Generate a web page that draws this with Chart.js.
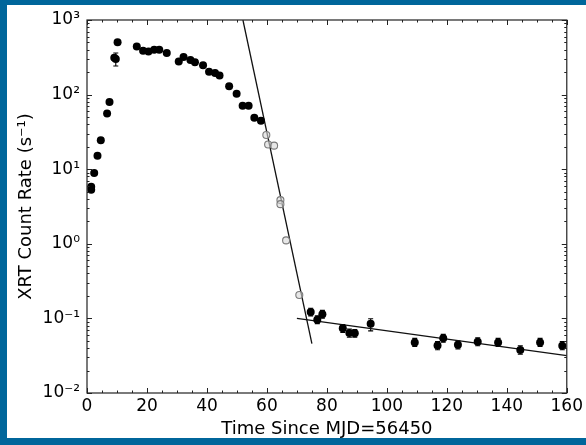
<!DOCTYPE html>
<html>
<head>
<meta charset="utf-8">
<script src="https://cdn.jsdelivr.net/npm/chart.js@4/dist/chart.umd.min.js"></script>
<style>
  html, body { margin: 0; padding: 0; }
  body { width: 586px; height: 445px; background: #00669b; position: relative; overflow: hidden; }
  #panel { position: absolute; left: 7px; top: 5px; width: 579px; height: 433px; background: #fff; }
  #wrap { position: absolute; left: 0; top: 0; width: 586px; height: 445px; }
</style>
</head>
<body>
<div id="panel"></div>
<div id="wrap"><canvas id="c" width="586" height="445"></canvas></div>
<script>
// ---- data ----
const tFilled = [1.4, 1.4, 2.4, 3.5, 4.6, 6.7, 7.5, 9.1, 9.6, 10.2, 16.6, 18.7, 20.5, 22.4, 24.1, 26.6,
  30.6, 32.2, 34.5, 36.0, 38.7, 40.7, 42.7, 44.2, 47.4, 49.9, 51.9, 53.9, 55.8, 58.0,
  74.6, 76.8, 78.5, 85.3, 87.5, 89.3, 94.6, 109.3, 116.9, 118.8, 123.7, 130.3, 137.1, 144.5, 151.1, 158.5];
const rFilled = [5.8, 5.3, 8.9, 15.2, 24.5, 55.6, 79.8, 313, 300, 502, 440, 388, 377, 400, 400, 361,
  277, 320, 291, 271, 247, 203, 195, 180, 129, 103, 71, 71, 49, 44.7,
  0.122, 0.096, 0.114, 0.0735, 0.0637, 0.063, 0.085, 0.0477, 0.0434, 0.054, 0.0444, 0.0486, 0.0477, 0.0377, 0.0477, 0.043];
const errLow = [null, null, null, null, null, null, null, null, 242, null, null, null, null, null, null, null,
  null, null, null, null, null, null, null, null, null, null, null, null, null, null,
  0.108, 0.085, 0.101, 0.065, 0.056, 0.056, 0.068, 0.042, 0.038, 0.048, 0.039, 0.043, 0.042, 0.033, 0.042, 0.038];
const errHigh = [null, null, null, null, null, null, null, null, 361, null, null, null, null, null, null, null,
  null, null, null, null, null, null, null, null, null, null, null, null, null, null,
  0.137, 0.108, 0.128, 0.083, 0.072, 0.071, 0.099, 0.054, 0.049, 0.061, 0.050, 0.055, 0.054, 0.043, 0.054, 0.049];
const tOpen = [59.8, 60.4, 62.4, 64.5, 64.5, 66.4, 70.8];
const rOpen = [28.8, 21.4, 20.7, 3.85, 3.4, 1.11, 0.206];
const tSteepFit = [52.0, 75.0];
const rSteepFit = [1000, 0.046];
const tFlatFit = [70.0, 160.0];
const rFlatFit = [0.1, 0.0316];
const xTicks = [0, 20, 40, 60, 80, 100, 120, 140, 160];
const yTickValues = [0.01, 0.1, 1, 10, 100, 1000];
const yTickLabels = ['10⁻²', '10⁻¹', '10⁰', '10¹', '10²', '10³'];
const xTitle = 'Time Since MJD=56450';
const yTitle = 'XRT Count Rate (s⁻¹)';

const FONT = 'DejaVu Sans';
const pts = (xs, ys) => xs.map((v, i) => ({ x: v, y: ys[i] }));

const frameTicks = {
  id: 'frameTicks',
  afterDatasetsDraw(chart) {
    const { ctx, chartArea: a, scales: { x, y } } = chart;
    ctx.save();
    ctx.strokeStyle = '#222';
    ctx.lineWidth = 1;
    for (let v = 0; v <= 160; v += 5) {
      const px = Math.round(x.getPixelForValue(v)) + 0.5;
      const len = (v % 20 === 0) ? 5 : 2.5;
      ctx.beginPath();
      ctx.moveTo(px, a.bottom); ctx.lineTo(px, a.bottom - len);
      ctx.moveTo(px, a.top); ctx.lineTo(px, a.top + len);
      ctx.stroke();
    }
    for (let e = -2; e <= 3; e++) {
      for (let m = 1; m <= 9; m++) {
        const v = m * Math.pow(10, e);
        if (v > 1000.0001) continue;
        const py = Math.round(y.getPixelForValue(v)) + 0.5;
        const len = (m === 1) ? 5 : 2.5;
        ctx.beginPath();
        ctx.moveTo(a.left, py); ctx.lineTo(a.left + len, py);
        ctx.moveTo(a.right, py); ctx.lineTo(a.right - len, py);
        ctx.stroke();
      }
    }
    ctx.lineWidth = 1.2;
    ctx.strokeRect(a.left, a.top, a.right - a.left, a.bottom - a.top);
    ctx.restore();
  }
};

const errorBars = {
  id: 'errorBars',
  beforeDatasetsDraw(chart) {
    const { ctx, scales: { x, y } } = chart;
    ctx.save();
    ctx.strokeStyle = '#000';
    ctx.lineWidth = 1.1;
    tFilled.forEach((t, i) => {
      if (errLow[i] == null) return;
      const px = x.getPixelForValue(t);
      const y1 = y.getPixelForValue(errLow[i]);
      const y2 = y.getPixelForValue(errHigh[i]);
      ctx.beginPath();
      ctx.moveTo(px, y1); ctx.lineTo(px, y2);
      ctx.moveTo(px - 2.5, y1); ctx.lineTo(px + 2.5, y1);
      ctx.moveTo(px - 2.5, y2); ctx.lineTo(px + 2.5, y2);
      ctx.stroke();
    });
    ctx.restore();
  }
};

new Chart(document.getElementById('c'), {
  type: 'scatter',
  data: {
    datasets: [
      { label: 'steep fit', data: pts(tSteepFit, rSteepFit), showLine: true, borderColor: '#111', borderWidth: 1.3, pointRadius: 0, fill: false, order: 3 },
      { label: 'flat fit', data: pts(tFlatFit, rFlatFit), showLine: true, borderColor: '#111', borderWidth: 1.3, pointRadius: 0, fill: false, order: 3 },
      { label: 'decay (open)', data: pts(tOpen, rOpen), pointRadius: 3.5, pointBorderWidth: 1.1, borderColor: '#7a7a7a', backgroundColor: 'rgba(215,215,215,0.6)', order: 2 },
      { label: 'XRT', data: pts(tFilled, rFilled), pointRadius: 4, pointBorderWidth: 0, borderColor: '#000', backgroundColor: '#000', order: 1 }
    ]
  },
  options: {
    responsive: false,
    animation: false,
    layout: { padding: { left: 0, right: 16, top: 20, bottom: 0 } },
    plugins: { legend: { display: false }, tooltip: { enabled: false } },
    scales: {
      x: {
        type: 'linear', min: 0, max: 160,
        afterBuildTicks: s => { s.ticks = xTicks.map(v => ({ value: v })); },
        afterFit: s => { s.height = 52; },
        ticks: { color: '#000', font: { family: FONT, size: 17 }, padding: 3, maxRotation: 0 },
        grid: { display: false, drawTicks: false },
        border: { display: false },
        title: { display: true, text: xTitle, color: '#000', font: { family: FONT, size: 18 }, padding: { top: 0, bottom: 5 } }
      },
      y: {
        type: 'logarithmic', min: 0.01, max: 1000,
        afterBuildTicks: s => { s.ticks = yTickValues.map(v => ({ value: v })); },
        afterFit: s => { s.width = 87; },
        ticks: {
          color: '#000', font: { family: FONT, size: 17 }, padding: 7,
          callback: v => yTickLabels[Math.round(Math.log10(v)) + 2]
        },
        grid: { display: false, drawTicks: false },
        border: { display: false },
        title: { display: true, text: yTitle, color: '#000', font: { family: FONT, size: 18 }, padding: { top: 16, bottom: 0 } }
      }
    }
  },
  plugins: [errorBars, frameTicks]
});
</script>
</body>
</html>
